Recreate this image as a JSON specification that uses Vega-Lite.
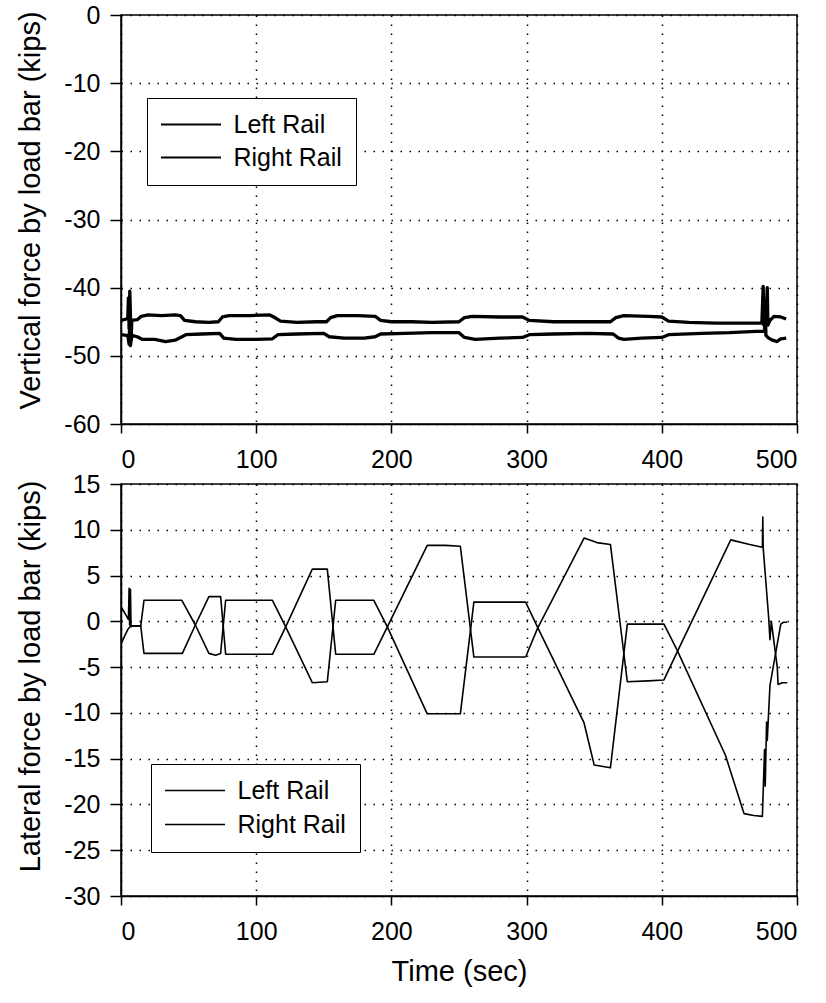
{
  "$schema": "https://vega.github.io/schema/vega-lite/v6.json",
  "background": "white",
  "padding": {"left": 16, "top": 2, "right": 10, "bottom": 5},
  "spacing": -2,
  "datasets": {
    "vert": [
      {"t": 0, "v": -44.8, "s": "Left Rail"}, {"t": 4, "v": -44.6, "s": "Left Rail"}, {"t": 5, "v": -44.5, "s": "Left Rail"}, {"t": 5.5, "v": -41.5, "s": "Left Rail"}, {"t": 6, "v": -46, "s": "Left Rail"}, {"t": 6.5, "v": -40.5, "s": "Left Rail"}, {"t": 7.5, "v": -47.5, "s": "Left Rail"}, {"t": 8, "v": -44.8, "s": "Left Rail"}, {"t": 12, "v": -44.7, "s": "Left Rail"}, {"t": 15, "v": -44.2, "s": "Left Rail"}, {"t": 20, "v": -44.0, "s": "Left Rail"}, {"t": 30, "v": -44.1, "s": "Left Rail"}, {"t": 40, "v": -44.0, "s": "Left Rail"}, {"t": 44, "v": -44.1, "s": "Left Rail"}, {"t": 47, "v": -44.8, "s": "Left Rail"}, {"t": 55, "v": -45.0, "s": "Left Rail"}, {"t": 65, "v": -45.1, "s": "Left Rail"}, {"t": 72, "v": -45.0, "s": "Left Rail"}, {"t": 75, "v": -44.3, "s": "Left Rail"}, {"t": 80, "v": -44.1, "s": "Left Rail"}, {"t": 95, "v": -44.1, "s": "Left Rail"}, {"t": 110, "v": -44.0, "s": "Left Rail"}, {"t": 113, "v": -44.3, "s": "Left Rail"}, {"t": 118, "v": -44.9, "s": "Left Rail"}, {"t": 130, "v": -45.1, "s": "Left Rail"}, {"t": 145, "v": -45.0, "s": "Left Rail"}, {"t": 152, "v": -45.0, "s": "Left Rail"}, {"t": 155, "v": -44.4, "s": "Left Rail"}, {"t": 160, "v": -44.1, "s": "Left Rail"}, {"t": 175, "v": -44.1, "s": "Left Rail"}, {"t": 188, "v": -44.2, "s": "Left Rail"}, {"t": 192, "v": -44.8, "s": "Left Rail"}, {"t": 200, "v": -45.0, "s": "Left Rail"}, {"t": 215, "v": -45.0, "s": "Left Rail"}, {"t": 230, "v": -45.1, "s": "Left Rail"}, {"t": 250, "v": -45.0, "s": "Left Rail"}, {"t": 254, "v": -44.4, "s": "Left Rail"}, {"t": 260, "v": -44.2, "s": "Left Rail"}, {"t": 280, "v": -44.3, "s": "Left Rail"}, {"t": 297, "v": -44.3, "s": "Left Rail"}, {"t": 302, "v": -44.8, "s": "Left Rail"}, {"t": 320, "v": -45.0, "s": "Left Rail"}, {"t": 340, "v": -45.0, "s": "Left Rail"}, {"t": 362, "v": -45.0, "s": "Left Rail"}, {"t": 366, "v": -44.4, "s": "Left Rail"}, {"t": 372, "v": -44.1, "s": "Left Rail"}, {"t": 390, "v": -44.2, "s": "Left Rail"}, {"t": 400, "v": -44.3, "s": "Left Rail"}, {"t": 405, "v": -44.9, "s": "Left Rail"}, {"t": 420, "v": -45.1, "s": "Left Rail"}, {"t": 440, "v": -45.2, "s": "Left Rail"}, {"t": 460, "v": -45.2, "s": "Left Rail"}, {"t": 474, "v": -45.2, "s": "Left Rail"}, {"t": 475, "v": -39.8, "s": "Left Rail"}, {"t": 475.5, "v": -45.5, "s": "Left Rail"}, {"t": 477, "v": -45.0, "s": "Left Rail"}, {"t": 478, "v": -40.0, "s": "Left Rail"}, {"t": 478.5, "v": -45.5, "s": "Left Rail"}, {"t": 480, "v": -44.8, "s": "Left Rail"}, {"t": 483, "v": -44.2, "s": "Left Rail"}, {"t": 488, "v": -44.3, "s": "Left Rail"}, {"t": 492, "v": -44.6, "s": "Left Rail"},
      {"t": 0, "v": -46.9, "s": "Right Rail"}, {"t": 4, "v": -47.0, "s": "Right Rail"}, {"t": 5, "v": -47.0, "s": "Right Rail"}, {"t": 6, "v": -48.3, "s": "Right Rail"}, {"t": 6.5, "v": -44.5, "s": "Right Rail"}, {"t": 7, "v": -48.5, "s": "Right Rail"}, {"t": 8, "v": -47.0, "s": "Right Rail"}, {"t": 12, "v": -47.2, "s": "Right Rail"}, {"t": 16, "v": -47.6, "s": "Right Rail"}, {"t": 25, "v": -47.6, "s": "Right Rail"}, {"t": 33, "v": -47.9, "s": "Right Rail"}, {"t": 40, "v": -47.7, "s": "Right Rail"}, {"t": 44, "v": -47.3, "s": "Right Rail"}, {"t": 48, "v": -46.9, "s": "Right Rail"}, {"t": 60, "v": -46.8, "s": "Right Rail"}, {"t": 73, "v": -46.7, "s": "Right Rail"}, {"t": 76, "v": -47.4, "s": "Right Rail"}, {"t": 85, "v": -47.6, "s": "Right Rail"}, {"t": 100, "v": -47.6, "s": "Right Rail"}, {"t": 112, "v": -47.5, "s": "Right Rail"}, {"t": 116, "v": -46.9, "s": "Right Rail"}, {"t": 130, "v": -46.8, "s": "Right Rail"}, {"t": 150, "v": -46.7, "s": "Right Rail"}, {"t": 154, "v": -47.2, "s": "Right Rail"}, {"t": 165, "v": -47.4, "s": "Right Rail"}, {"t": 180, "v": -47.4, "s": "Right Rail"}, {"t": 188, "v": -47.2, "s": "Right Rail"}, {"t": 192, "v": -46.8, "s": "Right Rail"}, {"t": 210, "v": -46.7, "s": "Right Rail"}, {"t": 230, "v": -46.6, "s": "Right Rail"}, {"t": 250, "v": -46.6, "s": "Right Rail"}, {"t": 254, "v": -47.3, "s": "Right Rail"}, {"t": 262, "v": -47.6, "s": "Right Rail"}, {"t": 280, "v": -47.4, "s": "Right Rail"}, {"t": 297, "v": -47.3, "s": "Right Rail"}, {"t": 302, "v": -46.9, "s": "Right Rail"}, {"t": 320, "v": -46.8, "s": "Right Rail"}, {"t": 345, "v": -46.7, "s": "Right Rail"}, {"t": 364, "v": -46.8, "s": "Right Rail"}, {"t": 368, "v": -47.4, "s": "Right Rail"}, {"t": 372, "v": -47.6, "s": "Right Rail"}, {"t": 385, "v": -47.4, "s": "Right Rail"}, {"t": 400, "v": -47.3, "s": "Right Rail"}, {"t": 405, "v": -46.9, "s": "Right Rail"}, {"t": 430, "v": -46.7, "s": "Right Rail"}, {"t": 450, "v": -46.6, "s": "Right Rail"}, {"t": 470, "v": -46.4, "s": "Right Rail"}, {"t": 474, "v": -46.4, "s": "Right Rail"}, {"t": 476, "v": -46.4, "s": "Right Rail"}, {"t": 476.5, "v": -42.0, "s": "Right Rail"}, {"t": 477, "v": -47.0, "s": "Right Rail"}, {"t": 479, "v": -47.4, "s": "Right Rail"}, {"t": 482, "v": -47.7, "s": "Right Rail"}, {"t": 485, "v": -47.9, "s": "Right Rail"}, {"t": 488, "v": -47.5, "s": "Right Rail"}, {"t": 492, "v": -47.4, "s": "Right Rail"}
    ],
    "lat": [
      {"t": 0, "v": 1.6, "s": "Left Rail"}, {"t": 2, "v": 1.1, "s": "Left Rail"}, {"t": 4, "v": 0.6, "s": "Left Rail"}, {"t": 5.5, "v": 0.2, "s": "Left Rail"}, {"t": 6, "v": 3.6, "s": "Left Rail"}, {"t": 6.4, "v": -0.4, "s": "Left Rail"}, {"t": 7, "v": 3.5, "s": "Left Rail"}, {"t": 7.4, "v": -0.6, "s": "Left Rail"}, {"t": 8, "v": -0.5, "s": "Left Rail"}, {"t": 14.6, "v": -0.5, "s": "Left Rail"}, {"t": 17, "v": 2.3, "s": "Left Rail"}, {"t": 30, "v": 2.3, "s": "Left Rail"}, {"t": 45, "v": 2.3, "s": "Left Rail"}, {"t": 55, "v": -0.4, "s": "Left Rail"}, {"t": 65, "v": -3.5, "s": "Left Rail"}, {"t": 70, "v": -3.7, "s": "Left Rail"}, {"t": 73.7, "v": -3.5, "s": "Left Rail"}, {"t": 77.4, "v": 2.3, "s": "Left Rail"}, {"t": 95, "v": 2.3, "s": "Left Rail"}, {"t": 112, "v": 2.3, "s": "Left Rail"}, {"t": 121.8, "v": -0.6, "s": "Left Rail"}, {"t": 141.5, "v": -6.7, "s": "Left Rail"}, {"t": 152.6, "v": -6.6, "s": "Left Rail"}, {"t": 158.8, "v": 2.3, "s": "Left Rail"}, {"t": 175, "v": 2.3, "s": "Left Rail"}, {"t": 187, "v": 2.3, "s": "Left Rail"}, {"t": 197, "v": -0.6, "s": "Left Rail"}, {"t": 226.5, "v": -10.1, "s": "Left Rail"}, {"t": 240, "v": -10.1, "s": "Left Rail"}, {"t": 251, "v": -10.1, "s": "Left Rail"}, {"t": 261, "v": 2.1, "s": "Left Rail"}, {"t": 280, "v": 2.1, "s": "Left Rail"}, {"t": 299.3, "v": 2.1, "s": "Left Rail"}, {"t": 308, "v": -0.6, "s": "Left Rail"}, {"t": 342.5, "v": -11.1, "s": "Left Rail"}, {"t": 350, "v": -15.7, "s": "Left Rail"}, {"t": 362, "v": -16.0, "s": "Left Rail"}, {"t": 374.5, "v": -0.3, "s": "Left Rail"}, {"t": 390, "v": -0.3, "s": "Left Rail"}, {"t": 401.6, "v": -0.3, "s": "Left Rail"}, {"t": 411.5, "v": -3.2, "s": "Left Rail"}, {"t": 447, "v": -14.6, "s": "Left Rail"}, {"t": 460.8, "v": -21.0, "s": "Left Rail"}, {"t": 468, "v": -21.2, "s": "Left Rail"}, {"t": 474.4, "v": -21.3, "s": "Left Rail"}, {"t": 476, "v": -14.0, "s": "Left Rail"}, {"t": 476.5, "v": -18.0, "s": "Left Rail"}, {"t": 477.5, "v": -11.0, "s": "Left Rail"}, {"t": 478, "v": -13.0, "s": "Left Rail"}, {"t": 480, "v": -7.0, "s": "Left Rail"}, {"t": 488, "v": -0.3, "s": "Left Rail"}, {"t": 490, "v": -0.1, "s": "Left Rail"}, {"t": 492.8, "v": -0.1, "s": "Left Rail"},
      {"t": 0, "v": -2.5, "s": "Right Rail"}, {"t": 3, "v": -1.5, "s": "Right Rail"}, {"t": 5, "v": -0.9, "s": "Right Rail"}, {"t": 7.2, "v": -0.5, "s": "Right Rail"}, {"t": 14.6, "v": -0.5, "s": "Right Rail"}, {"t": 17, "v": -3.5, "s": "Right Rail"}, {"t": 30, "v": -3.5, "s": "Right Rail"}, {"t": 45.4, "v": -3.5, "s": "Right Rail"}, {"t": 55, "v": -0.4, "s": "Right Rail"}, {"t": 65, "v": 2.7, "s": "Right Rail"}, {"t": 73.7, "v": 2.7, "s": "Right Rail"}, {"t": 77.4, "v": -3.6, "s": "Right Rail"}, {"t": 95, "v": -3.6, "s": "Right Rail"}, {"t": 112, "v": -3.6, "s": "Right Rail"}, {"t": 121.8, "v": -0.6, "s": "Right Rail"}, {"t": 141.5, "v": 5.7, "s": "Right Rail"}, {"t": 152.6, "v": 5.7, "s": "Right Rail"}, {"t": 158.8, "v": -3.6, "s": "Right Rail"}, {"t": 175, "v": -3.6, "s": "Right Rail"}, {"t": 187, "v": -3.6, "s": "Right Rail"}, {"t": 197, "v": -0.6, "s": "Right Rail"}, {"t": 226.5, "v": 8.3, "s": "Right Rail"}, {"t": 240, "v": 8.3, "s": "Right Rail"}, {"t": 251, "v": 8.2, "s": "Right Rail"}, {"t": 261, "v": -3.9, "s": "Right Rail"}, {"t": 280, "v": -3.9, "s": "Right Rail"}, {"t": 299.3, "v": -3.9, "s": "Right Rail"}, {"t": 308, "v": -0.8, "s": "Right Rail"}, {"t": 342.5, "v": 9.1, "s": "Right Rail"}, {"t": 352, "v": 8.6, "s": "Right Rail"}, {"t": 362, "v": 8.4, "s": "Right Rail"}, {"t": 374.5, "v": -6.6, "s": "Right Rail"}, {"t": 390, "v": -6.5, "s": "Right Rail"}, {"t": 401.6, "v": -6.4, "s": "Right Rail"}, {"t": 411.5, "v": -3.3, "s": "Right Rail"}, {"t": 451, "v": 8.9, "s": "Right Rail"}, {"t": 465, "v": 8.4, "s": "Right Rail"}, {"t": 474.4, "v": 8.1, "s": "Right Rail"}, {"t": 474.7, "v": 11.4, "s": "Right Rail"}, {"t": 475, "v": 8.0, "s": "Right Rail"}, {"t": 479, "v": 0.5, "s": "Right Rail"}, {"t": 480, "v": -2.0, "s": "Right Rail"}, {"t": 481, "v": 0.0, "s": "Right Rail"}, {"t": 485.4, "v": -5.0, "s": "Right Rail"}, {"t": 486, "v": -6.9, "s": "Right Rail"}, {"t": 489, "v": -6.7, "s": "Right Rail"}, {"t": 492.8, "v": -6.7, "s": "Right Rail"}
    ]
  },
  "resolve": {"scale": {"color": "independent"}, "legend": {"color": "independent"}},
  "vconcat": [
    {
      "width": 676,
      "height": 409,
      "data": {"name": "vert"},
      "mark": {"type": "line", "strokeWidth": 3.3, "strokeJoin": "round", "clip": true},
      "encoding": {
        "x": {"field": "t", "type": "quantitative", "scale": {"domain": [0, 500], "nice": false, "zero": false},
          "axis": {"title": null, "values": [0, 100, 200, 300, 400, 500], "labelExpr": "'' + datum.value"}},
        "y": {"field": "v", "type": "quantitative", "scale": {"domain": [-60, 0], "nice": false, "zero": false},
          "axis": {"title": "Vertical force by load bar (kips)", "titleY": 195, "values": [-60, -50, -40, -30, -20, -10, 0], "labelExpr": "'' + datum.value"}},
        "color": {"field": "s", "type": "nominal", "scale": {"domain": ["Left Rail", "Right Rail"], "range": ["black", "black"]},
          "legend": {"orient": "none", "legendX": 26, "legendY": 83, "title": null, "symbolType": "M-3,0H3", "symbolSize": 400, "symbolStrokeWidth": 2, "symbolOffset": 17.5, "labelOffset": 30, "labelFontSize": 25, "rowPadding": 7, "padding": 14, "strokeColor": "black", "fillColor": "white", "labelColor": "black"}}
      }
    },
    {
      "width": 676,
      "height": 412,
      "data": {"name": "lat"},
      "mark": {"type": "line", "strokeWidth": 1.6, "strokeJoin": "round", "clip": true},
      "encoding": {
        "x": {"field": "t", "type": "quantitative", "scale": {"domain": [0, 500], "nice": false, "zero": false},
          "axis": {"title": "Time (sec)", "values": [0, 100, 200, 300, 400, 500], "labelExpr": "'' + datum.value", "titlePadding": 13}},
        "y": {"field": "v", "type": "quantitative", "scale": {"domain": [-30, 15], "nice": false, "zero": false},
          "axis": {"title": "Lateral force by load bar (kips)", "titleY": 192, "values": [-30, -25, -20, -15, -10, -5, 0, 5, 10, 15], "labelExpr": "'' + datum.value"}},
        "color": {"field": "s", "type": "nominal", "scale": {"domain": ["Left Rail", "Right Rail"], "range": ["black", "black"]},
          "legend": {"orient": "none", "legendX": 30, "legendY": 280, "title": null, "symbolType": "M-3,0H3", "symbolSize": 400, "symbolStrokeWidth": 1.5, "symbolOffset": 17.5, "labelOffset": 30, "labelFontSize": 25, "rowPadding": 8, "padding": 14, "strokeColor": "black", "fillColor": "white", "labelColor": "black"}}
      }
    }
  ],
  "config": {
    "font": "Liberation Sans",
    "view": {"stroke": "black", "strokeWidth": 1.5},
    "axis": {
      "domainColor": "black", "domainWidth": 1.5, "tickColor": "black", "tickWidth": 1.5,
      "labelColor": "black", "labelFontSize": 25, "labelFont": "Liberation Sans",
      "titleColor": "black", "titleFontSize": 29, "titleFontWeight": "normal", "titleFont": "Liberation Sans",
      "grid": true, "gridColor": "black", "gridDash": [1.5, 7.5], "gridWidth": 1.5, "gridOpacity": 1
    },
    "axisX": {"tickSize": 9, "labelPadding": 14},
    "axisY": {"tickSize": 11, "labelPadding": 10, "titlePadding": 18}
  }
}
